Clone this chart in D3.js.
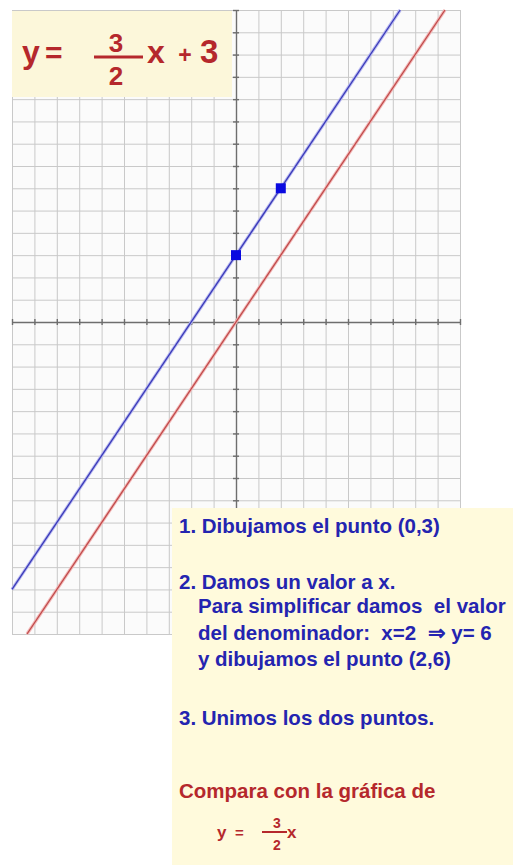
<!DOCTYPE html>
<html>
<head>
<meta charset="utf-8">
<script src="https://cdn.jsdelivr.net/npm/d3@7"></script>
<style>
  body { margin: 0; background: #fff; }
  svg { display: block; }
</style>
</head>
<body>
<div class="chart"></div>
<script>
// Chart values
var xDomain = [-10, 10];
var yDomain = [-14, 14];
var blueLine = [[-10, -12], [7.33, 14]];      // y = 3/2 x + 3
var redLine = [[-9.33, -14], [9.33, 14]];     // y = 3/2 x
var bluePoints = [[0, 3], [2, 6]];

var stepsBlue = [
  "1. Dibujamos el punto (0,3)",
  "2. Damos un valor a x.",
  "Para simplificar damos  el valor",
  "del denominador:  x=2  \u21D2 y= 6",
  "y dibujamos el punto (2,6)",
  "3. Unimos los dos puntos."
];
var compareText = "Compara con la gráfica de";

var svgWidth = 513;
var svgHeight = 865;

var grid = { left: 12, right: 460, top: 10, bottom: 634 };

var svg = d3.select(".chart")
  .append("svg")
  .attr("width", svgWidth)
  .attr("height", svgHeight);

var x = d3.scaleLinear().domain(xDomain).range([grid.left, grid.right]);
var y = d3.scaleLinear().domain(yDomain).range([grid.bottom, grid.top]);

// Grid
svg.append("rect")
  .attr("x", grid.left).attr("y", grid.top)
  .attr("width", grid.right - grid.left).attr("height", grid.bottom - grid.top)
  .attr("fill", "#fbfbfb");

var gridX = svg.append("g")
  .attr("transform", `translate(0, ${grid.bottom})`)
  .call(d3.axisBottom(x).ticks(20).tickSize(-(grid.bottom - grid.top)).tickFormat(""));
var gridY = svg.append("g")
  .attr("transform", `translate(${grid.left}, 0)`)
  .call(d3.axisLeft(y).ticks(28).tickSize(-(grid.right - grid.left)).tickFormat(""));
[gridX, gridY].forEach(function(g) {
  g.select(".domain").remove();
  g.selectAll(".tick line").attr("stroke", "#c9c9c9").attr("stroke-width", 1);
});

// Axes through the origin
var xAxis = svg.append("g")
  .attr("transform", `translate(0, ${y(0)})`)
  .call(d3.axisBottom(x).ticks(20).tickSizeOuter(0).tickFormat(""));
var yAxis = svg.append("g")
  .attr("transform", `translate(${x(0)}, 0)`)
  .call(d3.axisLeft(y).ticks(28).tickSizeOuter(0).tickFormat(""));
xAxis.selectAll(".tick line").attr("y1", -3).attr("y2", 3);
yAxis.selectAll(".tick line").attr("x1", -3).attr("x2", 3);
[xAxis, yAxis].forEach(function(g) {
  g.selectAll("path, line").attr("stroke", "#6e6e6e").attr("stroke-width", 1.4);
});

// Lines
var line = d3.line().x(d => x(d[0])).y(d => y(d[1]));
[[redLine, "#c04a4a", "#f2b8b8"], [blueLine, "#3a3ab8", "#b8b8f0"]].forEach(function(s) {
  svg.append("path").datum(s[0]).attr("d", line)
    .attr("fill", "none").attr("stroke", s[2]).attr("stroke-width", 3.2);
  svg.append("path").datum(s[0]).attr("d", line)
    .attr("fill", "none").attr("stroke", s[1]).attr("stroke-width", 1.3);
});

svg.selectAll(".pt")
  .data(bluePoints)
  .enter()
  .append("rect")
  .attr("class", "pt")
  .attr("x", d => x(d[0]) - 5)
  .attr("y", d => y(d[1]) - 5)
  .attr("width", 10)
  .attr("height", 10)
  .attr("fill", "#0a0ae0");

// Equation box (top left)
var red = "#b5282c";
var blue = "#2424b0";
var font = "'Liberation Sans', Arial, sans-serif";

svg.append("rect")
  .attr("x", 12).attr("y", 11).attr("width", 220).attr("height", 86)
  .attr("fill", "#fcf7da");

var eq = svg.append("g")
  .attr("fill", red)
  .attr("font-family", font)
  .attr("font-weight", "bold");
eq.append("text").attr("x", 22).attr("y", 63).attr("font-size", 32).text("y");
eq.append("text").attr("x", 45).attr("y", 63).attr("font-size", 30).text("=");
eq.append("text").attr("x", 116).attr("y", 52).attr("font-size", 26).attr("text-anchor", "middle").text("3");
eq.append("text").attr("x", 116).attr("y", 85).attr("font-size", 26).attr("text-anchor", "middle").text("2");
eq.append("rect").attr("x", 94).attr("y", 55.5).attr("width", 49).attr("height", 3);
eq.append("text").attr("x", 147).attr("y", 63).attr("font-size", 32).text("x");
eq.append("text").attr("x", 185).attr("y", 63).attr("font-size", 23).attr("text-anchor", "middle").text("+");
eq.append("text").attr("x", 200).attr("y", 63).attr("font-size", 33).text("3");

// Explanation box (bottom right)
svg.append("rect")
  .attr("x", 172).attr("y", 508).attr("width", svgWidth - 172).attr("height", svgHeight - 508)
  .attr("fill", "#fffadc");

var stepX = [179, 179, 198, 198, 198, 179];
var stepY = [533, 589, 613, 640, 666, 725];

svg.append("g")
  .attr("fill", blue)
  .attr("font-family", font)
  .attr("font-weight", "bold")
  .attr("font-size", 20.5)
  .selectAll("text")
  .data(stepsBlue)
  .enter()
  .append("text")
  .attr("x", (d, i) => stepX[i])
  .attr("y", (d, i) => stepY[i])
  .style("white-space", "pre")
  .text(d => d);

var cmp = svg.append("g")
  .attr("fill", red)
  .attr("font-family", font)
  .attr("font-weight", "bold");
cmp.append("text").attr("x", 179).attr("y", 798).attr("font-size", 20.5).text(compareText);
cmp.append("text").attr("x", 217).attr("y", 838).attr("font-size", 17).text("y");
cmp.append("text").attr("x", 235).attr("y", 838).attr("font-size", 15).text("=");
cmp.append("text").attr("x", 277).attr("y", 828).attr("font-size", 14).attr("text-anchor", "middle").text("3");
cmp.append("text").attr("x", 277).attr("y", 850).attr("font-size", 14).attr("text-anchor", "middle").text("2");
cmp.append("rect").attr("x", 262).attr("y", 831).attr("width", 25).attr("height", 2);
cmp.append("text").attr("x", 287).attr("y", 838).attr("font-size", 17).text("x");
</script>
</body>
</html>
